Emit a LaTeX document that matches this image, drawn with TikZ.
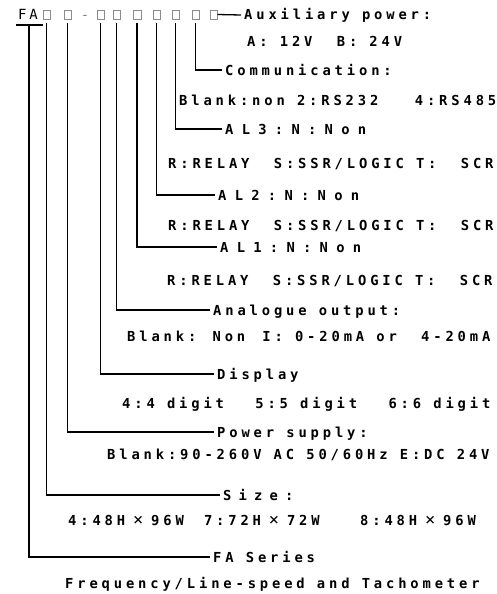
\documentclass[tikz,border=0pt]{standalone}
\usepackage{fontspec}
\newfontfamily\codefont{DejaVu Sans Mono Bold}[LetterSpace=28, WordSpace=1]
\newfontfamily\widefont{DejaVu Sans Mono Bold}[LetterSpace=60, WordSpace=1]
\newfontfamily\sizefont{DejaVu Sans Mono Bold}[LetterSpace=52, WordSpace=1]
\newfontfamily\plainfont{DejaVu Sans Mono}[LetterSpace=20]
\newfontfamily\signfont{DejaVu Sans Mono}
\newcommand\timesgap{\makebox[26pt]{\fontsize{17pt}{17pt}\signfont ×}}
\tikzset{
  conn/.style={line width=1.7pt, black},
  bar/.style={line width=1.7pt, black}
}

\begin{document}
\begin{tikzpicture}[
    x=1pt, y=-1pt,
    slot/.style={rectangle, draw=black!45, line width=0.5pt, minimum width=7.5pt, minimum height=9pt, inner sep=0pt},
    item/.style={anchor=west, inner xsep=3pt, inner ysep=0pt, text height=10pt, text depth=0pt, font=\fontsize{13.8pt}{14pt}\codefont},
    wideitem/.style={item, font=\fontsize{13.8pt}{14pt}\widefont},
    sizeitem/.style={item, font=\fontsize{13.8pt}{14pt}\sizefont}
]
    \useasboundingbox (0,0) rectangle (497,594);

    % Code string
    \node[item, inner xsep=0pt, font=\fontsize{14pt}{14pt}\plainfont] (fa) at (18,15) {FA};
    \node[slot] (s1) at (46.5,14.5) {};
    \node[slot] (s2) at (67.5,14.5) {};
    \node[item, inner xsep=0pt, text=black!55, font=\fontsize{13pt}{14pt}\plainfont] (dash) at (81,15) {-};
    \node[slot] (s3) at (100.5,14.5) {};
    \node[slot] (s4) at (116.5,14.5) {};
    \node[slot] (s5) at (137,14.5) {};
    \node[slot] (s6) at (156.5,14.5) {};
    \node[slot] (s7) at (175.5,14.5) {};
    \node[slot] (s8) at (195.5,14.5) {};
    \node[slot] (s9) at (213.5,14.5) {};

    % Labels and options
    \node[item] (aux) at (241,15) {Auxiliary power:};
    \node[item] (auxOpt) at (244,42) {A: 12V~~B: 24V};
    \node[item] (comm) at (222,70) {Communication:};
    \node[item] (commOpt) at (176,100) {Blank:non 2:RS232~~~4:RS485};
    \node[wideitem] (al3) at (222,129) {AL3:N:Non};
    \node[item] (al3Opt) at (165,163) {R:RELAY~~S:SSR/LOGIC T:~~SCR};
    \node[wideitem] (al2) at (215,195) {AL2:N:Non};
    \node[item] (al2Opt) at (165,225) {R:RELAY~~S:SSR/LOGIC T:~~SCR};
    \node[wideitem] (al1) at (217,247) {AL1:N:Non};
    \node[item] (al1Opt) at (164,280) {R:RELAY~~S:SSR/LOGIC T:~~SCR};
    \node[item] (ana) at (210,310) {Analogue output:};
    \node[item] (anaOpt) at (124,336) {Blank: Non\kern5pt~I: 0-20mA or~~4-20mA};
    \node[item] (disp) at (214,374) {Display};
    \node[item] (dispOpt) at (119,403) {4:4 digit~~\kern7pt 5:5 digit~~\kern7pt 6:6 digit};
    \node[item] (pow) at (214,432) {Power supply:};
    \node[item] (powOpt) at (104,454) {Blank:90-260V AC 50/60Hz E:DC 24V};
    \node[sizeitem] (size) at (220,495) {Size:};
    \node[item] (sizeOpt) at (65,520) {4:48H\timesgap 96W~\kern8pt 7:72H\timesgap 72W~~~\kern4pt 8:48H\timesgap 96W};
    \node[item] (ser) at (210,557) {FA Series};
    \node[item] (serOpt) at (62,583) {Frequency/Line-speed and Tachometer};

    % Connectors
    \coordinate (faL) at (16,25);
    \coordinate (faR) at (43,25);
    \coordinate (faT) at (29,25);
    \draw[bar] (faL) -- (faR);
    \draw[conn] (faT) |- (ser.west);
    \draw[conn] ([yshift=-4pt]s1.south) |- (size.west);
    \draw[conn] ([yshift=-4pt]s2.south) |- (pow.west);
    \draw[conn] ([yshift=-4pt]s3.south) |- (disp.west);
    \draw[conn] ([yshift=-4pt]s4.south) |- (ana.west);
    \draw[conn] ([yshift=-4pt]s5.south) |- (al1.west);
    \draw[conn] ([yshift=-4pt]s6.south) |- (al2.west);
    \draw[conn] ([yshift=-4pt]s7.south) |- (al3.west);
    \draw[conn] ([yshift=-4pt]s8.south) |- (comm.west);
    \draw[conn, line width=1.3pt] (s9.east) -- (aux.west);
\end{tikzpicture}
\end{document}
